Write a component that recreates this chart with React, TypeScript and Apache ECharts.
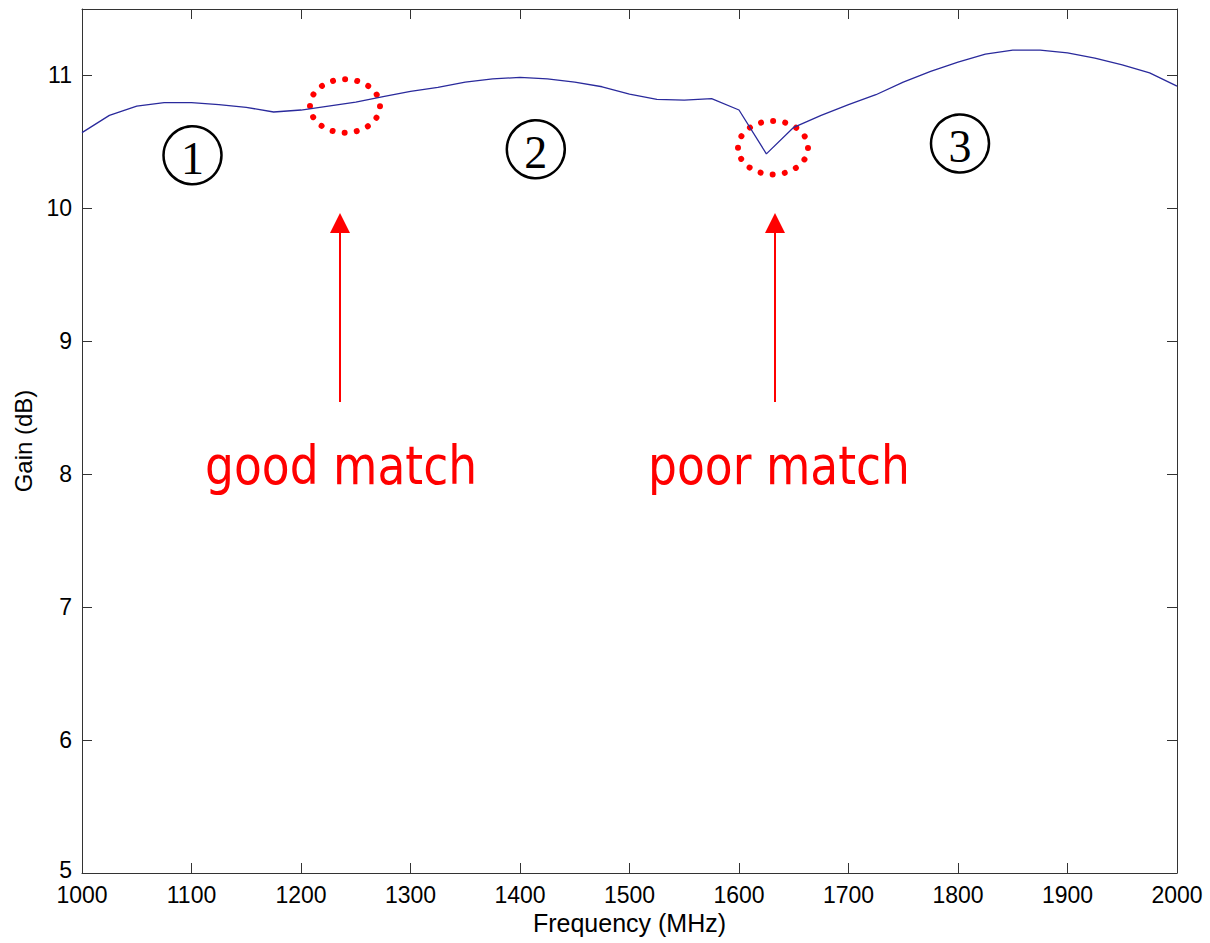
import React, { useEffect, useRef } from "react";
import * as echarts from "echarts";

// Amplifier gain across the band, sampled every 25 MHz
const frequencyMHz = [
  1000, 1025, 1050, 1075, 1100, 1125, 1150, 1175, 1200, 1225,
  1250, 1275, 1300, 1325, 1350, 1375, 1400, 1425, 1450, 1475,
  1500, 1525, 1550, 1575, 1600, 1625, 1650, 1675, 1700, 1725,
  1750, 1775, 1800, 1825, 1850, 1875, 1900, 1925, 1950, 1975, 2000,
];
const gainDb = [
  10.57, 10.70, 10.77, 10.795, 10.795, 10.78, 10.76, 10.725, 10.74, 10.77,
  10.80, 10.84, 10.88, 10.91, 10.95, 10.975, 10.985, 10.975, 10.95, 10.915,
  10.86, 10.82, 10.815, 10.825, 10.74, 10.41, 10.61, 10.70, 10.78, 10.855,
  10.95, 11.03, 11.10, 11.16, 11.19, 11.19, 11.17, 11.13, 11.08, 11.02, 10.92,
];

const xTicks = { min: 1000, max: 2000, step: 100 };
const yTicks = { min: 5, max: 11.5, step: 1 };

const AXIS_FONT = '"Liberation Sans", Arial, sans-serif';
const AXIS_COLOR = "#333";

export default function App() {
  const ref = useRef<HTMLDivElement>(null);

  useEffect(() => {
    if (!ref.current) return;
    const chart = echarts.init(ref.current, undefined, { renderer: "svg" });

    const boxAxis = {
      axisLine: { show: true, lineStyle: { color: AXIS_COLOR, width: 1 } },
      axisTick: { show: true, inside: true, length: 10, lineStyle: { color: AXIS_COLOR } },
      splitLine: { show: false },
    };

    const region = (cx: number, cy: number, label: string) => [
      {
        type: "circle",
        shape: { cx, cy, r: 29 },
        style: { fill: "none", stroke: "#000", lineWidth: 2.5 },
      },
      {
        type: "text",
        x: cx,
        y: cy + 3,
        style: {
          text: label,
          font: '46px "Liberation Serif", "Times New Roman", serif',
          fill: "#000",
          align: "center",
          verticalAlign: "middle",
        },
      },
    ];

    const dottedRing = (cx: number, cy: number) => ({
      type: "ellipse",
      shape: { cx, cy, rx: 35, ry: 26.7 },
      style: {
        fill: "none",
        stroke: "#ff0000",
        lineWidth: 6,
        lineCap: "round",
        lineDash: [0.01, 12.17],
      },
    });

    const arrow = (x: number) => [
      {
        type: "line",
        shape: { x1: x, y1: 402, x2: x, y2: 230 },
        style: { stroke: "#ff0000", lineWidth: 2 },
      },
      {
        type: "polygon",
        shape: { points: [[x, 213], [x - 10, 233], [x + 10, 233]] },
        style: { fill: "#ff0000" },
      },
    ];

    const note = (x: number, text: string) => ({
      type: "text",
      x,
      y: 492,
      scaleX: 0.86,
      style: {
        text,
        font: '53px "DejaVu Sans", Verdana, sans-serif',
        fill: "#ff0000",
        align: "left",
        verticalAlign: "bottom",
      },
    });

    chart.setOption({
      animation: false,
      backgroundColor: "#fff",
      grid: { left: 82, right: 33, top: 9, bottom: 70, containLabel: false },
      xAxis: [
        {
          type: "value",
          min: xTicks.min,
          max: xTicks.max,
          interval: xTicks.step,
          position: "bottom",
          name: "Frequency (MHz)",
          nameLocation: "middle",
          nameGap: 32,
          nameTextStyle: { fontFamily: AXIS_FONT, fontSize: 25, color: "#000" },
          axisLabel: {
            fontFamily: AXIS_FONT,
            fontSize: 23,
            lineHeight: 19,
            color: "#000",
            margin: 12,
            formatter: (v: number) => String(v),
          },
          ...boxAxis,
        },
        {
          type: "value",
          min: xTicks.min,
          max: xTicks.max,
          interval: xTicks.step,
          position: "top",
          axisLabel: { show: false },
          ...boxAxis,
        },
      ],
      yAxis: [
        {
          type: "value",
          min: yTicks.min,
          max: yTicks.max,
          interval: yTicks.step,
          position: "left",
          name: "Gain (dB)",
          nameLocation: "middle",
          nameGap: 47,
          nameTextStyle: { fontFamily: AXIS_FONT, fontSize: 24, color: "#000" },
          axisLabel: {
            fontFamily: AXIS_FONT,
            fontSize: 23,
            lineHeight: 19,
            color: "#000",
            margin: 10,
            showMaxLabel: false,
            // the lowest label is lifted a little so it clears the "1000" below it
            formatter: (v: number) => (v === yTicks.min ? `{low|${v}}` : String(v)),
            rich: {
              low: {
                fontFamily: AXIS_FONT,
                fontSize: 23,
                lineHeight: 19,
                color: "#000",
                padding: [0, 0, 6, 0],
              },
            },
          },
          ...boxAxis,
        },
        {
          type: "value",
          min: yTicks.min,
          max: yTicks.max,
          interval: yTicks.step,
          position: "right",
          axisLabel: { show: false },
          ...boxAxis,
        },
      ],
      series: [
        {
          type: "line",
          data: frequencyMHz.map((f, i) => [f, gainDb[i]]),
          showSymbol: false,
          smooth: false,
          lineStyle: { color: "#2a2a9c", width: 1.3 },
        },
      ],
      graphic: [
        ...region(192.5, 155.3, "1"),
        ...region(535.8, 149.2, "2"),
        ...region(960, 143.5, "3"),
        dottedRing(345, 106),
        dottedRing(773, 147.7),
        ...arrow(340),
        ...arrow(775),
        note(205, "good match"),
        note(648, "poor match"),
      ],
    });

    return () => chart.dispose();
  }, []);

  return (
    <div
      ref={ref}
      style={{ position: "absolute", left: 0, top: 0, width: 1210, height: 943, background: "#fff" }}
    />
  );
}
